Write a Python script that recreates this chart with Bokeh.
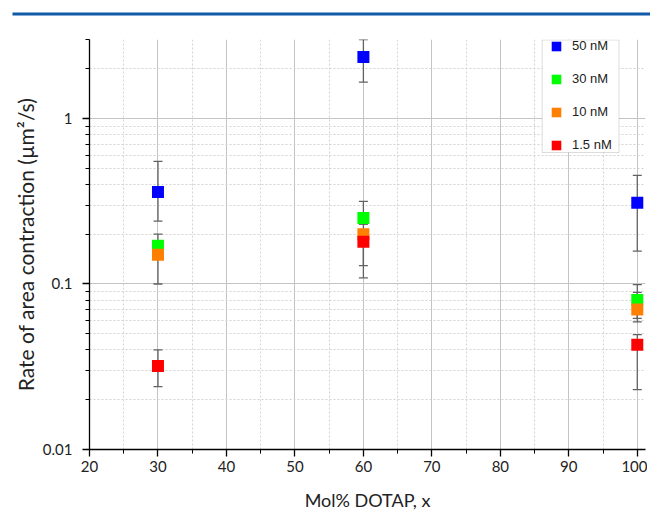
from bokeh.plotting import figure
from bokeh.layouts import column, row
from bokeh.models import (Range1d, FixedTicker, CustomJSTickFormatter, Whisker, TeeHead,
                          ColumnDataSource, Legend, LegendItem, BoxAnnotation)
from bokeh.embed import file_html
from bokeh.resources import INLINE

# ---- data ----
mol_dotap = [30, 60, 100]
series_labels = ["50 nM", "30 nM", "10 nM", "1.5 nM"]
series_colors = ["#0000ff", "#00ff00", "#ff8000", "#ff0000"]
rate_50nM = [0.36, 2.35, 0.31]
rate_30nM = [0.17, 0.25, 0.08]
rate_10nM = [0.15, 0.20, 0.07]
rate_1_5nM = [0.032, 0.18, 0.043]
low_50nM = [0.24, 1.66, 0.158]
high_50nM = [0.55, 3.0, 0.453]
low_30nM = [0.15, 0.23, 0.062]
high_30nM = [0.20, 0.316, 0.099]
low_10nM = [0.10, 0.129, 0.059]
high_10nM = [0.17, 0.23, 0.089]
low_1_5nM = [0.024, 0.109, 0.023]
high_1_5nM = [0.040, 0.20, 0.0495]
x_ticks = [20, 30, 40, 50, 60, 70, 80, 90, 100]
x_minor = [25, 35, 45, 55, 65, 75, 85, 95]
y_ticks = [0.01, 0.1, 1]
y_minor = [0.02, 0.03, 0.04, 0.05, 0.06, 0.07, 0.08, 0.09,
           0.2, 0.3, 0.4, 0.5, 0.6, 0.7, 0.8, 0.9, 2, 3]
y_minor_grid = [0.02, 0.03, 0.04, 0.05, 0.06, 0.07, 0.08, 0.09,
                0.2, 0.3, 0.4, 0.5, 0.6, 0.7, 0.8, 0.9, 2]

rates = [rate_50nM, rate_30nM, rate_10nM, rate_1_5nM]
lows = [low_50nM, low_30nM, low_10nM, low_1_5nM]
highs = [high_50nM, high_30nM, high_10nM, high_1_5nM]

FONT = "Lato"
TOP_H = 16
RULE = "#0f5ba7"

# thin blue rule at the top of the page (its frame is the rule)
top = figure(width=650, height=TOP_H, output_backend="svg", toolbar_location=None,
             x_axis_location=None, y_axis_location=None,
             min_border_left=12, min_border_right=0, min_border_top=12, min_border_bottom=1)
top.outline_line_color = None
top.background_fill_color = RULE
top.border_fill_color = "white"
top.grid.visible = False

p = figure(width=647, height=500, x_range=Range1d(20, 101.2), y_range=Range1d(0.01, 3),
           y_axis_type="log", output_backend="svg", toolbar_location=None,
           min_border_left=89, min_border_right=2, min_border_top=39 - TOP_H,
           min_border_bottom=500 - (39 - TOP_H) - 410)
p.outline_line_color = None

# axes
xt = FixedTicker(ticks=x_ticks, minor_ticks=x_minor)
p.xaxis.ticker = xt
p.xgrid.ticker = xt
yt = FixedTicker(ticks=y_ticks, minor_ticks=y_minor)
p.yaxis.ticker = yt
p.ygrid.ticker = FixedTicker(ticks=y_ticks, minor_ticks=y_minor_grid)
p.yaxis.formatter = CustomJSTickFormatter(code="return tick.toString();")

for ax in (p.xaxis[0], p.yaxis[0]):
    ax.axis_line_color = "black"
    ax.axis_line_width = 1.3
    ax.major_tick_line_color = "black"
    ax.minor_tick_line_color = "black"
    ax.major_tick_line_width = 1.3
    ax.minor_tick_line_width = 1.0
    ax.major_tick_in = 0
    ax.minor_tick_in = 0
    ax.major_label_text_font = FONT
    ax.major_label_text_font_size = "15px"
    ax.major_label_text_color = "#222222"
    ax.axis_label_text_font = FONT
    ax.axis_label_text_font_style = "normal"
    ax.axis_label_text_color = "#222222"
p.xaxis.major_tick_out = 7
p.xaxis.minor_tick_out = 4
p.xaxis.major_label_standoff = 4
p.xaxis.axis_label = "Mol% DOTAP, x"
p.xaxis.axis_label_standoff = 14
p.xaxis.axis_label_text_font_size = "18px"
p.yaxis.major_tick_out = 7
p.yaxis.minor_tick_out = 4
p.yaxis.major_label_standoff = 10
p.yaxis.axis_label = "Rate of area contraction (\u00b5m\u00b2/s)"
p.yaxis.axis_label_standoff = 2
p.yaxis.axis_label_text_font_size = "21px"

for g in (p.xgrid[0], p.ygrid[0]):
    g.grid_line_color = "#c4c4c4"
    g.grid_line_width = 1
    g.minor_grid_line_color = "#d2d2d2"
    g.minor_grid_line_dash = "2 2"
    g.minor_grid_line_width = 1

# error bars
for r, lo, hi in zip(rates, lows, highs):
    src = ColumnDataSource(dict(x=mol_dotap, y=r, lo=lo, hi=hi))
    w = Whisker(base="x", upper="hi", lower="lo", source=src, dimension="height",
                line_color="#626262", line_width=1.3,
                upper_head=TeeHead(size=9, line_color="#626262", line_width=1.3),
                lower_head=TeeHead(size=9, line_color="#626262", line_width=1.3))
    p.add_layout(w)

# markers
renderers = []
for r, c in zip(rates, series_colors):
    src = ColumnDataSource(dict(x=mol_dotap, y=r))
    rr = p.rect(x="x", y="y", width=12, height=12, width_units="screen", height_units="screen",
                source=src, fill_color=c, line_color=None)
    renderers.append(rr)

# legend frame (frame top at 39, bottom at 449 in page pixels)
p.add_layout(BoxAnnotation(left=541.7 - 89, right=618.5 - 89, bottom=449 - 152, top=409.5,
                           left_units="screen", right_units="screen",
                           bottom_units="screen", top_units="screen",
                           fill_color="white", fill_alpha=1, line_color="#8a8a8a", line_width=1))

legend = Legend(items=[LegendItem(label=l, renderers=[rr]) for l, rr in zip(series_labels, renderers)],
                location=(461, 297), glyph_width=12, glyph_height=12, label_standoff=10,
                spacing=18, padding=3, margin=0, border_line_color=None,
                background_fill_alpha=0, label_text_font="Liberation Sans",
                label_text_font_size="13px", label_text_color="#222222")
p.add_layout(legend)

layout = column(row(top), p, spacing=0)
open("out.html", "w").write(file_html(layout, INLINE))
